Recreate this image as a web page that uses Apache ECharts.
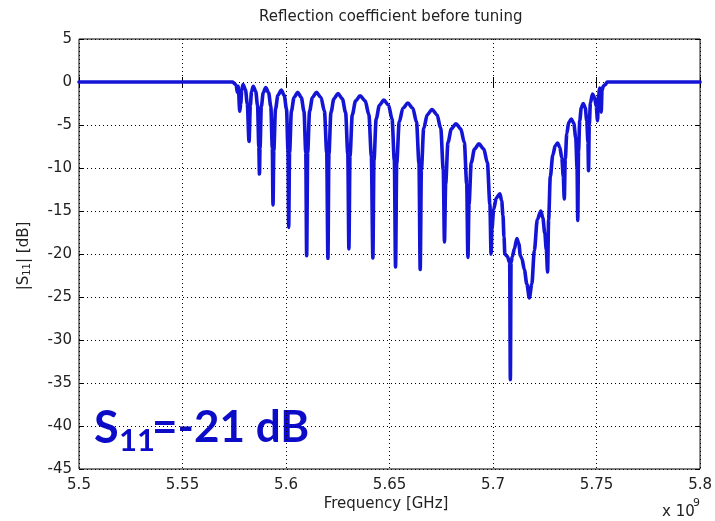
<!DOCTYPE html>
<html>
<head>
<meta charset="utf-8">
<script src="https://cdn.jsdelivr.net/npm/echarts@6/dist/echarts.min.js"></script>
<style>
  html, body { margin: 0; padding: 0; background: #ffffff; }
  #chart { width: 715px; height: 521px; }
</style>
</head>
<body>
<div id="chart"></div>
<script>
// Measured |S11| of the filter before tuning (frequency in GHz, magnitude in dB)
const freqGHz = [
  5.5, 5.57428, 5.57524, 5.57597, 5.57645, 5.57693, 5.57765, 5.57814, 5.57862, 5.57925,
  5.58040, 5.58127, 5.58214, 5.58277, 5.58334, 5.58417, 5.58537, 5.58624, 5.58687, 5.58716,
  5.58744, 5.58807, 5.58899, 5.59019, 5.59159, 5.59265, 5.59338, 5.59371, 5.59410, 5.59492,
  5.59608, 5.59767, 5.59912, 5.60023, 5.60095, 5.60129, 5.60172, 5.60259, 5.60389, 5.60563,
  5.60736, 5.60867, 5.60954, 5.60997, 5.61045, 5.61137, 5.61277, 5.61465, 5.61687, 5.61855,
  5.61966, 5.62024, 5.62072, 5.62169, 5.62314, 5.62507, 5.62719, 5.62878, 5.62984, 5.63037,
  5.63090, 5.63201, 5.63360, 5.63577, 5.63823, 5.64002, 5.64122, 5.64195, 5.64248, 5.64354,
  5.64513, 5.64725, 5.64952, 5.65121, 5.65232, 5.65290, 5.65347, 5.65468, 5.65646, 5.65883,
  5.66124, 5.66302, 5.66423, 5.66481, 5.66539, 5.66650, 5.66823, 5.67050, 5.67291, 5.67474,
  5.67595, 5.67653, 5.67711, 5.67822, 5.67986, 5.68208, 5.68439, 5.68613, 5.68728, 5.68786,
  5.68839, 5.68946, 5.69105, 5.69317, 5.69553, 5.69727, 5.69847, 5.69905, 5.69949, 5.70030,
  5.70156, 5.70330, 5.70417, 5.70479, 5.70528, 5.70571, 5.70692, 5.70802, 5.70836, 5.70870,
  5.70933, 5.71029, 5.71150, 5.71246, 5.71319, 5.71391, 5.71511, 5.71632, 5.71753, 5.71873,
  5.71994, 5.72138, 5.72307, 5.72404, 5.72500, 5.72573, 5.72635, 5.72684, 5.72766, 5.72886,
  5.73007, 5.73118, 5.73224, 5.73320, 5.73393, 5.73441, 5.73489, 5.73561, 5.73658, 5.73778,
  5.73899, 5.73995, 5.74058, 5.74092, 5.74130, 5.74188, 5.74261, 5.74357, 5.74454, 5.74526,
  5.74584, 5.74613, 5.74647, 5.74704, 5.74806, 5.74902, 5.74984, 5.75047, 5.75095, 5.75153,
  5.75187, 5.75225, 5.75264, 5.75322, 5.75418, 5.75515, 5.8
];
const s11dB = [
  0, 0, -0.2, -0.4, -1.2, -0.5, -3.4, -2.5, -0.9, -0.3,
  -0.9, -2.5, -6.9, -2.7, -1.1, -0.5, -1.1, -2.7, -7.5, -10.7,
  -7.65, -2.85, -1.25, -0.65, -1.25, -2.85, -7.65, -14.3, -7.95, -3.15,
  -1.55, -0.95, -1.55, -3.15, -7.95, -16.9, -8.2, -3.4, -1.8, -1.2,
  -1.8, -3.4, -8.2, -20.2, -8.2, -3.4, -1.8, -1.2, -1.8, -3.4,
  -8.2, -20.5, -8.35, -3.55, -1.95, -1.35, -1.95, -3.55, -8.35, -19.4,
  -8.6, -3.8, -2.2, -1.6, -2.2, -3.8, -8.6, -20.5, -9.1, -4.3,
  -2.7, -2.1, -2.7, -4.3, -9.1, -21.5, -9.45, -4.65, -3.05, -2.45,
  -3.05, -4.65, -9.45, -21.8, -10.2, -5.4, -3.8, -3.2, -3.8, -5.4,
  -10.2, -18.6, -11.85, -7.05, -5.45, -4.85, -5.45, -7.05, -11.85, -20.4,
  -14.2, -9.4, -7.8, -7.2, -7.8, -9.4, -14.2, -20.0, -17.0, -14.8,
  -13.5, -13.0, -13.8, -15.5, -18.0, -20.0, -20.3, -21.0, -34.6, -21.0,
  -20.3, -19.4, -18.2, -18.8, -20.2, -20.5, -21.8, -23.5, -25.1, -23.5,
  -19.6, -16.0, -15.0, -15.8, -17.6, -19.5, -22.1, -16.0, -11.0, -8.5,
  -7.4, -7.1, -7.6, -8.8, -11.0, -13.6, -9.0, -6.0, -4.7, -4.3,
  -4.8, -6.5, -10.0, -16.1, -8.0, -4.5, -3.0, -2.5, -3.0, -4.5,
  -7.0, -10.3, -5.0, -2.4, -1.4, -1.8, -2.8, -4.5, -1.5, -0.7,
  -1.2, -3.5, -1.0, -0.5, -0.3, 0, 0
];

// Axis ranges and tick spacing
const xRange = [5.5, 5.8];
const xStep = 0.05;
const yRange = [-45, 5];
const yStep = 5;

const titleText = 'Reflection coefficient before tuning';
const xLabelText = 'Frequency [GHz]';
const annotation = { name: 'S', sub: '11', rest: '=-21 dB' };

const FONT = 'DejaVu Sans';
const LINE_BLUE = '#1414d6';
const NOTE_BLUE = '#0c0cc8';

const chart = echarts.init(document.getElementById('chart'), null, { renderer: 'canvas' });

const gridLine = { show: true, lineStyle: { color: '#000', width: 1, type: [1, 3] } };
const tickLabel = { color: '#222', fontFamily: FONT, fontSize: 15 };

chart.setOption({
  animation: false,
  backgroundColor: '#ffffff',
  grid: {
    left: 79, right: 14, top: 39, bottom: 52,
    show: true, borderColor: '#000', borderWidth: 1, backgroundColor: '#ffffff'
  },
  xAxis: [
    {
      type: 'value', min: xRange[0], max: xRange[1], interval: xStep,
      axisLine: { show: false },
      axisTick: { show: true, inside: true, length: 5, lineStyle: { color: '#000' } },
      axisLabel: Object.assign({ margin: 9, formatter: v => String(+v.toFixed(2)) }, tickLabel),
      splitLine: gridLine
    },
    {
      type: 'value', position: 'top', min: xRange[0], max: xRange[1], interval: xStep,
      axisLine: { show: false },
      axisTick: { show: true, inside: true, length: 5, lineStyle: { color: '#000' } },
      axisLabel: { show: false }, splitLine: { show: false }
    }
  ],
  yAxis: [
    {
      type: 'value', min: yRange[0], max: yRange[1], interval: yStep,
      axisLine: { show: false },
      axisTick: { show: true, inside: true, length: 5, lineStyle: { color: '#000' } },
      axisLabel: Object.assign({ margin: 7 }, tickLabel),
      splitLine: gridLine
    },
    {
      type: 'value', position: 'right', min: yRange[0], max: yRange[1], interval: yStep,
      axisLine: { show: false },
      axisTick: { show: true, inside: true, length: 5, lineStyle: { color: '#000' } },
      axisLabel: { show: false }, splitLine: { show: false }
    }
  ],
  series: [{
    type: 'line',
    xAxisIndex: 0, yAxisIndex: 0,
    data: freqGHz.map((f, i) => [f, s11dB[i]]),
    showSymbol: false,
    clip: true,
    smooth: 0.3,
    smoothMonotone: 'x',
    lineStyle: { color: LINE_BLUE, width: 3.6, join: 'round', cap: 'round' }
  }],
  graphic: [
    {
      type: 'text', left: 259, top: 10,
      style: { text: titleText, fill: '#222', font: '15px "' + FONT + '"' }
    },
    {
      type: 'text', x: 386, y: 504,
      style: { text: xLabelText, fill: '#222', font: '15px "' + FONT + '"', align: 'center', verticalAlign: 'middle' }
    },
    {
      type: 'text', x: 22, y: 256, rotation: Math.PI / 2,
      style: {
        text: '{a||S}{b|11}{a|| [dB]}',
        align: 'center', verticalAlign: 'middle',
        rich: {
          a: { fill: '#222', fontFamily: FONT, fontSize: 15, verticalAlign: 'bottom', lineHeight: 20 },
          b: { fill: '#222', fontFamily: FONT, fontSize: 10, verticalAlign: 'bottom', lineHeight: 14 }
        }
      }
    },
    {
      type: 'text', x: 662, y: 512,
      style: { text: 'x 10', fill: '#222', font: '15px "' + FONT + '"', verticalAlign: 'middle' }
    },
    {
      type: 'text', x: 693, y: 503,
      style: { text: '9', fill: '#222', font: '11px "' + FONT + '"', verticalAlign: 'middle' }
    },
    {
      type: 'text', x: 94, y: 428,
      style: { text: annotation.name, fill: NOTE_BLUE, font: 'bold 45px Lato', verticalAlign: 'middle' }
    },
    {
      type: 'text', x: 119, y: 441,
      style: { text: annotation.sub, fill: NOTE_BLUE, font: 'bold 31px Lato', verticalAlign: 'middle' }
    },
    {
      type: 'text', x: 152, y: 428,
      style: { text: annotation.rest, fill: NOTE_BLUE, font: 'bold 44px Lato', verticalAlign: 'middle' }
    }
  ]
});
</script>
</body>
</html>
